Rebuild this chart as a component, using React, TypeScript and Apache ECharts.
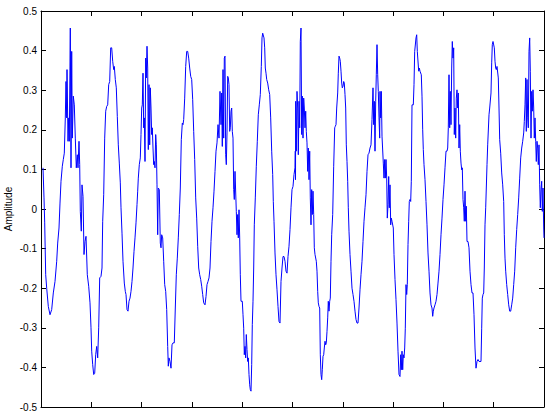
import React, { useEffect, useRef } from "react";
import * as echarts from "echarts";

// Time axis (arbitrary sample units spanning the plot, 0..503)
const time: number[] = [
  2, 3, 3.7, 4.7, 5.7, 7.3, 9, 10.7, 12.3, 14, 15.7, 16.7, 18, 19, 20, 21.3, 22.3, 23.3, 24.3, 25, 25.7, 26, 27, 27.7, 28.3, 29.3, 30, 30.7, 31.3, 32.3, 33.3, 34.3, 35.3, 36.3, 37, 38, 38.7, 39.3, 40.3, 41, 42, 43, 44, 45, 46.3, 47.7, 49, 50, 50.7, 51.7, 52.7, 53.7, 54.7, 55.7, 56.7, 57.7, 58.7, 60, 61, 61.7, 62.7, 63.7, 64.7, 65.7, 66.7, 67.7, 68.7, 69.7, 70.7, 71.7, 72.7, 73.3, 74.3, 75.3, 76.3, 77.3, 78.3, 79.3, 80, 81, 82, 83.3, 84.3,
  85, 86, 87, 88, 89, 90, 91, 92, 93, 94, 95, 96, 96.7, 97.3, 98.3, 99.3, 100, 100.7, 101.3, 102, 102.7, 103.3, 104, 104.7, 105.3, 106, 106.7, 107.3, 108, 108.7, 109.3, 110, 110.7, 111.3, 112, 112.7, 113.3, 114, 114.7, 115.3, 116, 116.7, 117.3, 118.3, 119.3, 120, 120.7, 121.7, 122.7, 123.7, 124.7, 125.7, 126.7, 127.3, 128, 129, 130, 131, 132, 133.3, 134.3, 135.3, 136.3, 137.3, 138.3, 139.3, 140.3, 141.3, 142, 142.7, 143.7, 144.7, 145.7, 146.7, 147.7, 148.7, 149.7, 150.7, 151.7, 152.7, 153.7, 154.7, 155.7, 156.7, 157.7, 158.7, 159.7, 160.7, 161.7, 162.7, 164, 165, 166, 167, 168, 169,
  170, 171, 172, 173, 174, 175, 176, 177, 178, 179, 180, 180.7, 181.3, 182, 182.7, 183.3, 184, 184.7, 185.3, 186, 186.7, 187.3, 188, 188.7, 189.3, 190, 190.7, 191.3, 192, 192.7, 193.3, 194, 194.7, 195.3, 196, 196.7, 197.3, 198, 198.7, 199.3, 200, 201.3, 202, 202.7, 203.3, 204, 204.7, 205.3, 206, 206.7, 207.3, 208, 208.7, 209.3, 210, 210.7, 211.3, 212, 212.7, 213.3, 214.3, 215.3, 216.3, 217.3, 218.3, 219.3, 220.3, 221, 221.7, 222.3, 223, 223.7, 224.3, 225, 225.7, 226.7, 227.7, 228.7, 229.7, 230.7, 231.7, 232.3, 233, 234, 235, 236, 237, 238, 239, 240, 241, 242, 243, 244, 245, 246, 247, 248, 249, 250, 251, 252, 253, 254, 254.3, 254.5,
  254.7, 255.3, 256, 256.7, 257.3, 258, 258.7, 259.3, 260, 260.7, 261.3, 262, 262.7, 263.3, 264, 264.7, 265.3, 266, 266.7, 267.3, 268, 268.7, 269.3, 270, 270.7, 271.3, 272, 272.7, 273.3, 274, 274.7, 275.3, 276, 276.7, 277.3, 278, 278.7, 279.3, 280, 280.7, 281.3, 282, 282.7, 283.3, 284, 284.7, 285.3, 286, 286.7, 287.3, 288, 288.7, 289.3, 290, 290.7, 291.7, 292.7, 293.7, 294.3, 295, 295.7, 296.7, 297.3, 298, 298.7, 299.3, 300, 300.7, 301.3, 302, 302.7, 303.3, 304, 304.7, 305.3, 306, 306.7, 307.3, 308, 309, 310, 311, 312, 313, 314, 315, 316, 317, 318, 319, 320, 321, 322, 323, 324, 325, 326, 327, 328, 329, 330, 331, 332, 332.7, 333.3, 334, 334.7, 335.3, 336, 336.7, 337.3, 338, 338.7,
  339, 339.7, 340.3, 341, 341.7, 342.3, 343, 343.7, 344.3, 345, 345.7, 346.3, 347, 347.7, 348.3, 349, 349.7, 350.3, 351, 351.7, 352.3, 353, 354, 355, 356, 357, 358, 359, 359.7, 360.3, 361, 361.7, 362.3, 363, 363.7, 364.3, 365, 365.7, 366.3, 367, 367.7, 368.3, 369, 369.7, 370.3, 371, 371.7, 372.3, 373, 373.7, 374.3, 375, 375.7, 376.3, 377, 377.7, 378.3, 379, 379.7, 380.3, 381, 381.7, 382.3, 383, 384, 385, 386, 387, 388, 389, 390, 391, 391.7, 392.3, 393, 394, 395, 396, 397, 398, 399, 400, 401, 402, 403, 404, 405, 406, 406.7, 407.3, 408, 408.7, 409.3, 410, 410.7, 411.3, 412, 412.7, 413.3, 414, 414.7, 415.3, 416, 416.7, 417.3, 418, 418.7, 419.3, 420, 420.7, 421.3, 422, 422.7, 423.3,
  424, 424.7, 425.3, 426, 427, 428, 429, 430, 431, 432, 433, 434, 435, 436, 437, 438, 439, 440, 440.7, 441.3, 442, 442.7, 443.3, 444, 444.7, 445.3, 446, 446.7, 447.3, 448, 448.7, 449.3, 450, 450.7, 451.3, 452, 452.7, 453.3, 454, 454.7, 455.3, 456, 456.7, 457.3, 458, 458.7, 459.7, 460.7, 461.7, 462.7, 463.3, 464, 464.7, 465.7, 466.7, 467.7, 468.7, 469.7, 470.7, 471.7, 472.7, 473.7, 474.7, 475.7, 476.7, 477.7, 478.7, 479.7, 480.7, 481.7, 482.7, 483.3, 484, 484.7, 485.3, 486, 486.7, 487.3, 488, 488.7, 489.3, 490, 490.7, 491.3, 492, 492.7, 493.3, 494, 494.7, 495.3, 496, 496.7, 497.3, 498, 498.7, 499.3, 500, 500.7, 501.3, 502, 502.7, 503,
];

// Amplitude
const amplitude: number[] = [
  0.104, 0.028, -0.035, -0.166, -0.2, -0.246, -0.267, -0.254, -0.212, -0.183, -0.132, -0.086, -0.048, 0.015, 0.07, 0.108, 0.125, 0.141, 0.23, 0.322, 0.23, 0.352, 0.171, 0.23, 0.171, 0.457, 0.104, 0.398, 0.179, 0.285, 0.263, 0.179, 0.104, 0.137, 0.104, 0.171, 0.112, -0.006, -0.056, 0.061, 0.032, -0.115, -0.082, -0.069, -0.166, -0.195, -0.237, -0.3, -0.359, -0.393, -0.418, -0.415, -0.368, -0.347, -0.376, -0.3, -0.174, -0.17, -0.149, -0.031, 0.036, 0.179, 0.247, 0.259, 0.263, 0.314, 0.322, 0.407, 0.407, 0.373, 0.352, 0.36, 0.327, 0.306, 0.234, 0.162, 0.116, 0.066, 0.003, -0.061, -0.132, -0.187, -0.208,
  -0.216, -0.254, -0.258, -0.233, -0.225, -0.208, -0.183, -0.149, -0.107, -0.073, -0.035, 0.011, 0.045, 0.078, 0.112, 0.129, 0.188, 0.255, 0.263, 0.343, 0.205, 0.23, 0.12, 0.381, 0.331, 0.411, 0.356, 0.15, 0.314, 0.162, 0.306, 0.255, 0.188, 0.205, 0.154, 0.112, 0.12, 0.104, 0.188, 0.162, 0.061, -0.065, 0.053, 0.049, -0.086, -0.098, -0.065, -0.073, -0.132, -0.191, -0.208, -0.254, -0.347, -0.397, -0.376, -0.385, -0.402, -0.343, -0.338, -0.338, -0.25, -0.166, -0.124, -0.073, -0.014, 0.053, 0.175, 0.217, 0.213, 0.226, 0.28, 0.36, 0.398, 0.398, 0.381, 0.356, 0.335, 0.327, 0.276, 0.196, 0.125, 0.028, -0.023, -0.094, -0.149, -0.166, -0.178, -0.195, -0.216, -0.237, -0.242, -0.221, -0.191, -0.183, -0.174, -0.149,
  -0.082, -0.031, 0.003, 0.045, 0.095, 0.146, 0.167, 0.213, 0.179, 0.297, 0.213, 0.293, 0.158, 0.352, 0.179, 0.381, 0.386, 0.137, 0.112, 0.192, 0.335, 0.331, 0.314, 0.196, 0.205, 0.247, 0.255, 0.196, 0.179, 0.049, 0.024, 0.095, 0.095, -0.006, -0.065, -0.014, -0.073, -0.002, -0.073, -0.166, -0.233, -0.233, -0.267, -0.301, -0.368, -0.347, -0.376, -0.317, -0.355, -0.385, -0.376, -0.418, -0.444, -0.456, -0.46, -0.393, -0.292, -0.233, -0.149, -0.04, 0.028, 0.108, 0.171, 0.238, 0.263, 0.289, 0.36, 0.432, 0.444, 0.444, 0.432, 0.407, 0.356, 0.343, 0.327, 0.318, 0.301, 0.289, 0.23, 0.146, 0.087, 0.019, -0.031, -0.111, -0.166, -0.204, -0.246, -0.284, -0.288, -0.183, -0.149, -0.12, -0.12, -0.132, -0.157, -0.162, -0.12, -0.094, -0.052, 0.003, 0.049, 0.057, 0.087, 0.104, 0.146, 0.074,
  0.272, 0.146, 0.297, 0.255, 0.137, 0.272, 0.205, 0.423, 0.457, 0.188, 0.285, 0.179, 0.28, 0.255, 0.205, 0.247, 0.196, 0.167, 0.095, 0.154, 0.074, 0.146, 0.028, -0.04, 0.049, -0.014, 0.045, -0.014, -0.098, -0.115, -0.115, -0.132, -0.157, -0.208, -0.237, -0.246, -0.25, -0.368, -0.418, -0.431, -0.406, -0.372, -0.368, -0.351, -0.334, -0.343, -0.338, -0.309, -0.275, -0.233, -0.258, -0.233, -0.225, -0.132, -0.065, -0.014, 0.108, 0.205, 0.209, 0.213, 0.255, 0.293, 0.343, 0.386, 0.381, 0.373, 0.348, 0.318, 0.306, 0.31, 0.322, 0.318, 0.289, 0.255, 0.162, 0.12, 0.07, 0.003, -0.056, -0.115, -0.157, -0.2, -0.216, -0.233, -0.258, -0.279, -0.288, -0.288, -0.25, -0.204, -0.166, -0.132, -0.082, -0.031, 0.003, 0.036, 0.095, 0.137, 0.141, 0.154, 0.162, 0.226, 0.306, 0.213, 0.272, 0.146, 0.272, 0.339, 0.415, 0.339, 0.297, 0.23, 0.179,
  0.297, 0.23, 0.297, 0.184, 0.184, 0.116, 0.078, 0.125, 0.078, 0.125, 0.078, -0.023, 0.011, 0.082, 0.003, 0.061, -0.04, -0.023, -0.031, -0.031, -0.048, -0.115, -0.178, -0.229, -0.288, -0.359, -0.418, -0.423, -0.368, -0.406, -0.359, -0.406, -0.368, -0.376, -0.351, -0.301, -0.191, -0.216, -0.191, -0.09, -0.031, 0.019, 0.024, 0.019, 0.07, 0.263, 0.263, 0.263, 0.314, 0.398, 0.398, 0.432, 0.44, 0.398, 0.398, 0.348, 0.356, 0.348, 0.348, 0.339, 0.285, 0.2, 0.15, 0.112, 0.074, 0.019, -0.04, -0.111, -0.157, -0.212, -0.242, -0.25, -0.271, -0.258, -0.25, -0.242, -0.233, -0.216, -0.187, -0.157, -0.115, -0.065, -0.023, 0.024, 0.061, 0.104, 0.146, 0.146, 0.154, 0.205, 0.339, 0.205, 0.297, 0.213, 0.356, 0.423, 0.381, 0.407, 0.188, 0.255, 0.179, 0.28, 0.301, 0.255, 0.293, 0.154, 0.213, 0.146, 0.116, 0.099, 0.104, 0.024, 0.003, -0.031,
  0.045, -0.031, 0.007, -0.082, -0.082, -0.098, -0.157, -0.191, -0.212, -0.212, -0.267, -0.351, -0.402, -0.385, -0.38, -0.385, -0.385, -0.385, -0.301, -0.225, -0.216, -0.212, -0.149, -0.04, 0.003, 0.053, 0.112, 0.162, 0.162, 0.238, 0.255, 0.255, 0.293, 0.369, 0.415, 0.423, 0.423, 0.407, 0.373, 0.356, 0.352, 0.36, 0.36, 0.331, 0.255, 0.175, 0.141, 0.091, 0.061, 0.019, -0.065, -0.124, -0.157, -0.191, -0.216, -0.242, -0.258, -0.258, -0.242, -0.225, -0.191, -0.157, -0.098, -0.052, -0.014, 0.028, 0.078, 0.129, 0.154, 0.171, 0.192, 0.221, 0.263, 0.331, 0.196, 0.327, 0.23, 0.205, 0.398, 0.432, 0.348, 0.179, 0.297, 0.247, 0.301, 0.255, 0.179, 0.23, 0.171, 0.12, 0.171, 0.154, 0.112, 0.162, 0.061, 0.003, 0.049, 0.07, -0.006, 0.053, -0.048, -0.073,
];

const X_MIN = 0;
const X_MAX = 503;
const X_STEP = 50.3;
const Y_MIN = -0.5;
const Y_MAX = 0.5;
const Y_STEP = 0.1;
const Y_NAME = "Amplitude";

const FONT = "Liberation Sans, Arial, Helvetica, sans-serif";

function axisLine() {
  return { show: true, onZero: false, lineStyle: { color: "#000", width: 1 } };
}
function tick() {
  return { show: true, inside: true, length: 5, lineStyle: { color: "#000", width: 1 } };
}

export default function App() {
  const ref = useRef<HTMLDivElement>(null);

  useEffect(() => {
    if (!ref.current) return;
    const chart = echarts.init(ref.current, undefined, { renderer: "svg" });
    const n = Math.min(time.length, amplitude.length);
    const data: number[][] = [];
    for (let i = 0; i < n; i++) data.push([time[i], amplitude[i]]);

    chart.setOption({
      animation: false,
      backgroundColor: "#fff",
      grid: {
        left: 41,
        right: 6,
        top: 11,
        bottom: 9,
        containLabel: false,
        outerBoundsMode: "none",
      },
      xAxis: [
        {
          type: "value",
          gridIndex: 0,
          position: "bottom",
          min: X_MIN,
          max: X_MAX,
          interval: X_STEP,
          axisLine: axisLine(),
          axisTick: tick(),
          axisLabel: { show: false },
          splitLine: { show: false },
        },
        {
          type: "value",
          gridIndex: 0,
          position: "top",
          min: X_MIN,
          max: X_MAX,
          interval: X_STEP,
          axisLine: axisLine(),
          axisTick: tick(),
          axisLabel: { show: false },
          splitLine: { show: false },
        },
      ],
      yAxis: [
        {
          type: "value",
          gridIndex: 0,
          position: "left",
          min: Y_MIN,
          max: Y_MAX,
          interval: Y_STEP,
          axisLine: axisLine(),
          axisTick: tick(),
          axisLabel: {
            show: true,
            color: "#000",
            fontSize: 10,
            fontFamily: FONT,
            margin: 4,
          },
          splitLine: { show: false },
          name: Y_NAME,
          nameLocation: "middle",
          nameGap: 28,
          nameMoveOverlap: false,
          nameTextStyle: { color: "#000", fontSize: 10, fontFamily: FONT },
        },
        {
          type: "value",
          gridIndex: 0,
          position: "right",
          min: Y_MIN,
          max: Y_MAX,
          interval: Y_STEP,
          axisLine: axisLine(),
          axisTick: tick(),
          axisLabel: { show: false },
          splitLine: { show: false },
        },
      ],
      series: [
        {
          type: "line",
          xAxisIndex: 0,
          yAxisIndex: 0,
          data,
          showSymbol: false,
          symbol: "none",
          lineStyle: { color: "#0000ff", width: 1 },
          itemStyle: { color: "#0000ff" },
        },
      ],
    });

    return () => chart.dispose();
  }, []);

  return (
    <div
      ref={ref}
      style={{ position: "absolute", left: 0, top: 0, width: 550, height: 416, background: "#fff" }}
    />
  );
}
